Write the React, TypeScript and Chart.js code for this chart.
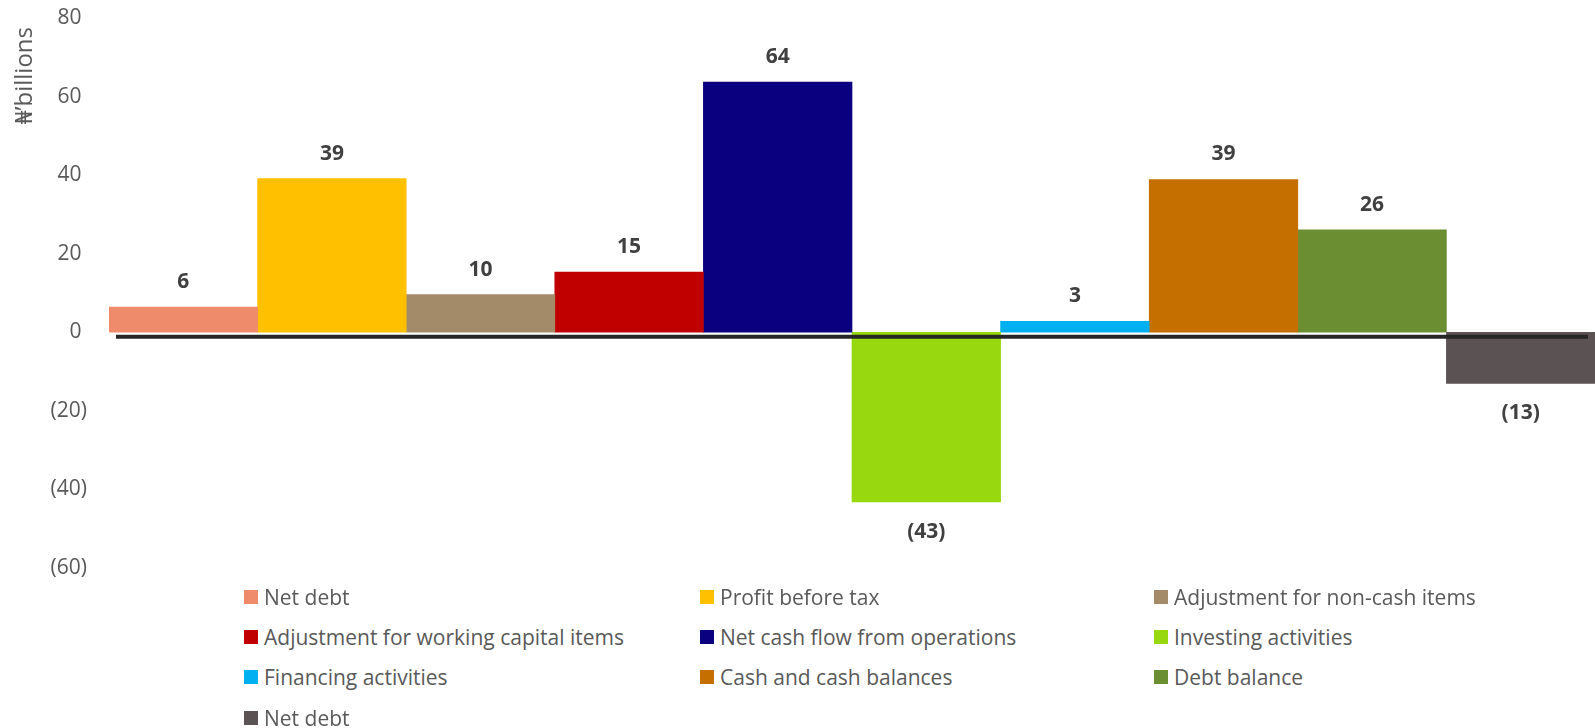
import React, { useEffect, useRef } from "react";
import { Chart, registerables } from "chart.js";

Chart.register(...registerables);

const categories = [""];
const seriesLabels = [
  "Net debt",
  "Profit before tax",
  "Adjustment for non-cash items",
  "Adjustment for working capital items",
  "Net cash flow from operations",
  "Investing activities",
  "Financing activities",
  "Cash and cash balances",
  "Debt balance",
  "Net debt",
];
const seriesValues = [6.4, 39.1, 9.6, 15.3, 63.7, -43.2, 2.8, 38.9, 26.1, -13.0];
const seriesColors = [
  "#EF8B6B",
  "#FFC000",
  "#A38B69",
  "#C00000",
  "#0A007F",
  "#97D80F",
  "#00B0F0",
  "#C46F00",
  "#6C8E33",
  "#5A5253",
];
const yMin = -60;
const yMax = 80;
const yStep = 20;
const yAxisTitle = "₦’billions";

const FONT = "'Open Sans', 'Noto Sans', 'DejaVu Sans', sans-serif";
const TEXT = "#595959";

const fmt = (v: number) => (v < 0 ? `(${Math.abs(Math.round(v))})` : `${Math.round(v)}`);
const tickFmt = (v: number) => (v < 0 ? `(${Math.abs(v)})` : `${v} `);

const dataLabelPlugin = {
  id: "dataLabels",
  afterDatasetsDraw(chart: any) {
    const ctx = chart.ctx;
    ctx.save();
    ctx.font = `bold 21px ${FONT}`;
    ctx.fillStyle = "#404040";
    ctx.textAlign = "center";
    ctx.textBaseline = "middle";
    chart.data.datasets.forEach((ds: any, i: number) => {
      const meta = chart.getDatasetMeta(i);
      meta.data.forEach((el: any, j: number) => {
        const v = ds.data[j];
        const y = v >= 0 ? el.y - 25 : el.y + 30;
        ctx.fillText(fmt(v), el.x, y);
      });
    });
    ctx.restore();
  },
};

const zeroLinePlugin = {
  id: "zeroLine",
  afterDatasetsDraw(chart: any) {
    const { ctx, chartArea } = chart;
    const y = chart.scales.y.getPixelForValue(0) + 4.5;
    ctx.save();
    ctx.strokeStyle = "#262626";
    ctx.lineWidth = 4;
    ctx.beginPath();
    ctx.moveTo(chartArea.left + 7, y);
    ctx.lineTo(chartArea.right - 7, y);
    ctx.stroke();
    ctx.restore();
  },
};

const yTitlePlugin = {
  id: "yTitle",
  afterDraw(chart: any) {
    const { ctx, chartArea } = chart;
    ctx.save();
    ctx.font = `24px ${FONT}`;
    ctx.fillStyle = TEXT;
    ctx.textAlign = "right";
    ctx.textBaseline = "middle";
    ctx.translate(25, chartArea.top + 9);
    ctx.rotate(-Math.PI / 2);
    ctx.fillText(yAxisTitle, 0, 0);
    ctx.restore();
  },
};

export default function App() {
  const ref = useRef<HTMLCanvasElement>(null);

  useEffect(() => {
    if (!ref.current) return;
    const chart = new Chart(ref.current, {
      type: "bar",
      data: {
        labels: categories,
        datasets: seriesLabels.map((label, i) => ({
          label,
          data: [seriesValues[i]],
          backgroundColor: seriesColors[i],
          borderWidth: 0,
          categoryPercentage: 1,
          barPercentage: 1,
        })),
      },
      options: {
        animation: false,
        responsive: false,
        maintainAspectRatio: false,
        layout: { padding: { top: 18, bottom: 22, left: 0, right: 0 } },
        plugins: {
          legend: { display: false },
          tooltip: { enabled: false },
        },
        scales: {
          x: { display: false },
          y: {
            min: yMin,
            max: yMax,
            grid: {
              display: false,
              drawTicks: true,
              tickLength: 22,
              color: "rgba(0,0,0,0)",
            },
            border: { display: false },
            ticks: {
              stepSize: yStep,
              padding: 0,
              color: TEXT,
              font: { family: FONT, size: 21 },
              callback: (v: any) => tickFmt(Number(v)),
            },
            afterFit: (scale: any) => {
              scale.width = 109;
            },
          },
        },
      },
      plugins: [dataLabelPlugin, zeroLinePlugin, yTitlePlugin],
    });
    return () => chart.destroy();
  }, []);

  const colLefts = [244, 700, 1154];

  return (
    <div
      style={{
        position: "fixed",
        left: 0,
        top: 0,
        width: 1595,
        height: 728,
        background: "#fff",
        fontFamily: FONT,
      }}
    >
      <canvas ref={ref} width={1595} height={590} style={{ position: "absolute", left: 0, top: 0 }} />
      {seriesLabels.map((label, i) => {
        const col = i % 3;
        const row = Math.floor(i / 3);
        return (
          <div
            key={i}
            style={{
              position: "absolute",
              left: colLefts[col],
              top: 577 + row * 40.2,
              height: 40,
              display: "flex",
              alignItems: "center",
              color: TEXT,
              fontSize: 21,
              whiteSpace: "nowrap",
            }}
          >
            <span
              style={{
                display: "inline-block",
                width: 14,
                height: 14,
                background: seriesColors[i],
                marginRight: 6,
              }}
            />
            <span>{label}</span>
          </div>
        );
      })}
    </div>
  );
}
